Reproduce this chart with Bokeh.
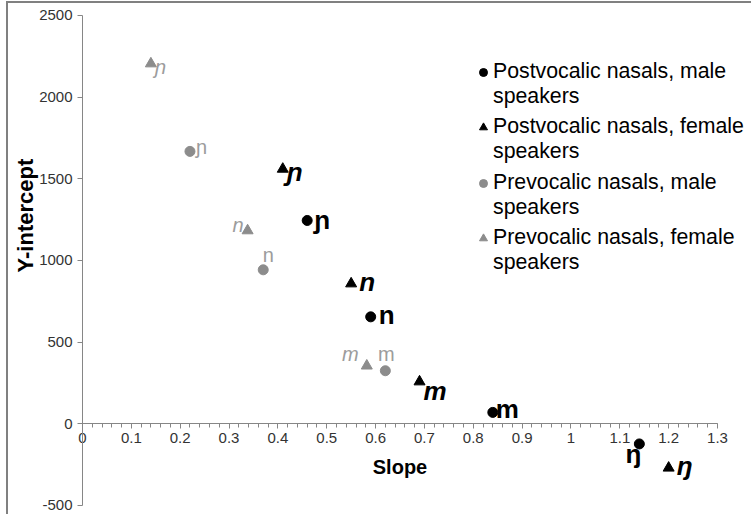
import numpy as np
from bokeh.plotting import figure
from bokeh.models import Range1d, FixedTicker, Legend, LegendItem, Label
from bokeh.embed import file_html
from bokeh.resources import INLINE
from bokeh.core.properties import value

# ---------------- data ----------------
series_names = [
    "Postvocalic nasals, male",
    "Postvocalic nasals, female",
    "Prevocalic nasals, male",
    "Prevocalic nasals, female",
]
legend_second_line = "speakers"

post_male_slope = [0.46, 0.59, 0.84, 1.14]
post_male_icpt = [1245, 655, 70, -123]
post_male_lab = ["ɲ", "n", "m", "ŋ"]

post_female_slope = [0.41, 0.55, 0.69, 1.20]
post_female_icpt = [1560, 858, 258, -270]
post_female_lab = ["ɲ", "n", "m", "ŋ"]

pre_male_slope = [0.22, 0.37, 0.62]
pre_male_icpt = [1668, 943, 325]
pre_male_lab = ["ɲ", "n", "m"]

pre_female_slope = [0.14, 0.338, 0.582]
pre_female_icpt = [2205, 1183, 355]
pre_female_lab = ["ɲ", "n", "m"]

x_ticks = [0, 0.1, 0.2, 0.3, 0.4, 0.5, 0.6, 0.7, 0.8, 0.9, 1, 1.1, 1.2, 1.3]
x_tick_labels = ["0", "0.1", "0.2", "0.3", "0.4", "0.5", "0.6", "0.7", "0.8", "0.9", "1", "1.1", "1.2", "1.3"]
y_ticks = [-500, 0, 500, 1000, 1500, 2000, 2500]
y_tick_labels = ["-500", "0", "500", "1000", "1500", "2000", "2500"]

# ---------------- styles ----------------
FONT = "Liberation Sans"
BLACK = "#000000"
GRAY_MK = "#8c8c8c"
GRAY_TX = "#9c9c9c"
AXIS_C = "#868686"

# label placement per point: (x_offset, y_offset, align, baseline)
post_male_pos = [(7, 0, "left", "middle"), (8, -2, "left", "middle"),
                 (3, -3, "left", "middle"), (-6, 10, "center", "middle")]
post_female_pos = [(4, 3, "left", "middle"), (8, -2, "left", "middle"),
                   (4, 9, "left", "middle"), (8, -2, "left", "middle")]
pre_male_pos = [(6, -4, "left", "middle"), (5, -4, "center", "bottom"),
                (1, -6, "center", "bottom")]
pre_female_pos = [(4, 3, "left", "middle"), (-4, 5, "right", "bottom"),
                  (-8, -1, "right", "bottom")]

# frame extends beyond the axes so that tick labels are not clipped
p = figure(width=745, height=513,
           x_range=Range1d(-0.14126, 1.3737), y_range=Range1d(-567.35, 2561.2),
           output_backend="svg", toolbar_location=None,
           min_border_left=5, min_border_right=0,
           min_border_top=2, min_border_bottom=0)
p.styles = {"margin-left": "6px", "margin-top": "1px",
            "border-left": "2px solid #808080", "border-top": "2px solid #808080"}
p.grid.visible = False
p.outline_line_color = None
p.background_fill_color = "white"
p.border_fill_color = "white"

xa = p.xaxis[0]
xa.fixed_location = 0
xa.bounds = (x_ticks[0], x_ticks[-1])
xa.ticker = FixedTicker(ticks=x_ticks,
                        minor_ticks=np.round(np.arange(0, 1.3001, 0.02), 2).tolist())
xa.major_label_overrides = {t: l for t, l in zip(x_ticks, x_tick_labels)}
xa.axis_line_color = AXIS_C
xa.major_tick_line_color = AXIS_C
xa.minor_tick_line_color = AXIS_C
xa.major_tick_in = 0
xa.major_tick_out = 5
xa.minor_tick_in = 0
xa.minor_tick_out = 4
xa.major_label_text_font = FONT
xa.major_label_text_font_size = "15px"
xa.major_label_text_color = "#333333"
xa.major_label_standoff = 4
xa.axis_label = "Slope"
xa.axis_label_text_font = FONT
xa.axis_label_text_font_style = "bold"
xa.axis_label_text_font_size = "20px"
xa.axis_label_text_color = BLACK
xa.axis_label_standoff = 10

ya = p.yaxis[0]
ya.fixed_location = 0
ya.bounds = (y_ticks[0], y_ticks[-1])
ya.ticker = FixedTicker(ticks=y_ticks)
ya.major_label_overrides = {t: l for t, l in zip(y_ticks, y_tick_labels)}
ya.axis_line_color = AXIS_C
ya.major_tick_line_color = AXIS_C
ya.minor_tick_line_color = None
ya.major_tick_in = 0
ya.major_tick_out = 5
ya.major_label_text_font = FONT
ya.major_label_text_font_size = "15px"
ya.major_label_text_color = "#333333"
ya.major_label_standoff = 5

series = [
    (post_male_slope, post_male_icpt, post_male_lab, post_male_pos, "circle", BLACK, BLACK, "bold", "26px"),
    (post_female_slope, post_female_icpt, post_female_lab, post_female_pos, "triangle", BLACK, BLACK, "bold italic", "26px"),
    (pre_male_slope, pre_male_icpt, pre_male_lab, pre_male_pos, "circle", GRAY_MK, GRAY_TX, "normal", "20px"),
    (pre_female_slope, pre_female_icpt, pre_female_lab, pre_female_pos, "triangle", GRAY_MK, GRAY_TX, "italic", "20px"),
]

# invisible renderer for second legend lines
blank = p.scatter(x=[], y=[], marker="circle", fill_alpha=0, line_alpha=0)

legend_bottoms = [407, 352, 296, 241]
for k, (name, (xs, ys, labs, pos, marker, mc, tc, fstyle, fsize)) in enumerate(zip(series_names, series)):
    r = p.scatter(x=xs, y=ys, marker=marker, size=10 if marker == "circle" else 11,
                  fill_color=mc, line_color=mc)
    for i in range(len(xs)):
        xo, yo, al, bl = pos[i]
        p.text(x=[xs[i]], y=[ys[i]], text=[labs[i]], x_offset=xo, y_offset=yo,
               text_align=al, text_baseline=bl, text_color=tc,
               text_font_style=fstyle, text_font_size=fsize, text_font=value(FONT))
    lg = Legend(items=[LegendItem(label=name, renderers=[r]),
                       LegendItem(label=legend_second_line, renderers=[blank])],
                location=(460, legend_bottoms[k]))
    lg.border_line_color = None
    lg.background_fill_alpha = 0
    lg.label_text_font = FONT
    lg.label_text_font_size = "21.3px"
    lg.label_text_color = BLACK
    lg.label_height = 22
    lg.glyph_width = 20
    lg.glyph_height = 20
    lg.label_standoff = 0
    lg.spacing = -1
    lg.padding = 0
    lg.margin = 0
    p.add_layout(lg)

ylab = Label(x=-0.1167, y=1275, text="Y-intercept",
             angle=np.pi / 2, text_align="center", text_baseline="middle",
             text_font=FONT, text_font_style="bold", text_font_size="22px",
             text_color=BLACK)
p.add_layout(ylab)

open("out.html", "w").write(file_html(p, INLINE))
